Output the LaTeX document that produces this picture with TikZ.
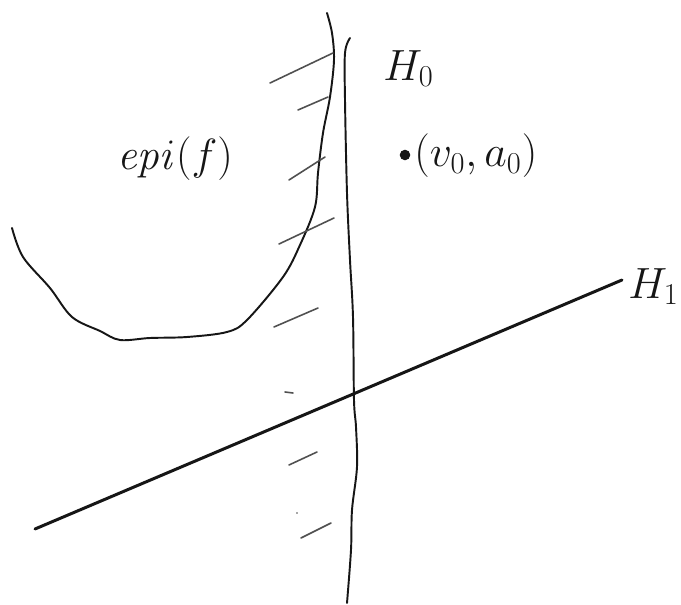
\documentclass[tikz,border=0pt]{standalone}
\begin{document}
\begin{tikzpicture}[x=0.02cm, y=-0.02cm, line cap=round, line join=round,
  pen/.style={ink, line width=1.1pt},
  hatch/.style={ink!75, line width=0.9pt},
  hand/.style={text=ink, font=\fontsize{26}{28}\selectfont, inner sep=0pt}]
  \definecolor{ink}{HTML}{161616}
  \definecolor{paper}{HTML}{FFFFFF}
  \path[use as bounding box] (0,0) rectangle (681,605);
  \fill[paper] (0,0) rectangle (681,605);
  % Boundary of the epigraph: one stroke from the far left round the bottom and up to the top.
  \draw[pen] plot[smooth, tension=0.55] coordinates {
    (12,228) (23,257) (50,288) (72,317) (100,331) (120,340) (150,338)
    (187,337) (227,332) (247,320) (283,277) (300,245) (315,207)
    (318,173) (323,133) (330,97) (334,60) (332,33) (327,13)};
  % Hatching on the epigraph side.
  \foreach \xa/\ya/\xb/\yb in {270/83/333/53, 298/110/328/97, 289/180/325/157,
      279/244/334/218, 274/327/318/308, 285/392/293/393, 289/465/317/452,
      301/538/331/523}
    \draw[hatch] (\xa,\ya) -- (\xb,\yb);
  \fill[ink!75] (297,513) circle (0.8);
  % Separating hyperplane H0, nearly vertical.
  \draw[pen] plot[smooth, tension=0.55] coordinates {
    (350,38) (345,53) (345,100) (347,193) (350,260) (353,317) (354,400)
    (356,427) (357,467) (352,510) (351,550) (347,603)};
  % Hyperplane H1.
  \coordinate (hone west) at (35,529);
  \coordinate (hone east) at (622,280);
  \draw[ink, line width=1.7pt] (hone west) -- (hone east);
  % Labels.
  \node[hand, font=\fontsize{29}{31}\selectfont, anchor=base] (epi) at (175,170) {$\mathit{epi}(f)$};
  \node[hand, anchor=base west] (hzero) at (383,80) {$H_0$};
  \node[hand, font=\fontsize{23}{25}\selectfont, anchor=base east] (hone) at (679,298) {$H_1$};
  \node[circle, fill=ink, inner sep=0pt, minimum size=6pt] (pt) at (405,155) {};
  \node[hand, anchor=base west] (ptlabel) at (414,167) {$(v_0, a_0)$};
\end{tikzpicture}
\end{document}
